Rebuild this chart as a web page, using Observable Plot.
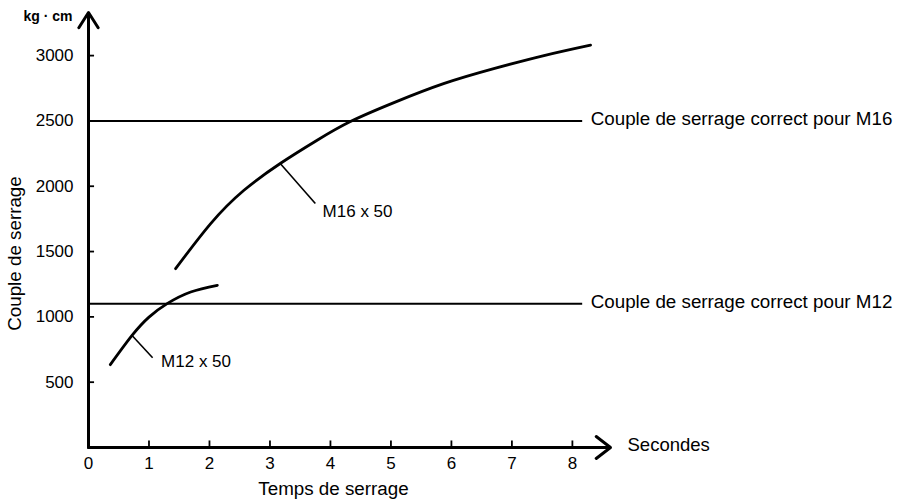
<!DOCTYPE html>
<html><head><meta charset="utf-8">
<script src="https://cdn.jsdelivr.net/npm/d3@7"></script>
<script src="https://cdn.jsdelivr.net/npm/@observablehq/plot@0.6"></script>
<style>body{margin:0;background:#fff;}</style>
</head><body><div id="chart"></div>
<script>
// Data
const xTicks = [0, 1, 2, 3, 4, 5, 6, 7, 8];
const yTicks = [500, 1000, 1500, 2000, 2500, 3000];
const xMax = 8.63;   // end of the time axis arrow
const yMax = 3330;   // end of the torque axis arrow

const m16Time   = [1.44, 2.02, 2.57, 3.17, 3.78, 4.33, 5.05, 5.87, 6.70, 7.53, 8.30];
const m16Torque = [1369, 1714, 1969, 2174, 2352, 2495, 2640, 2785, 2900, 3000, 3080];
const m12Time   = [0.36, 0.72, 1.0, 1.30, 1.69, 2.13];
const m12Torque = [634, 858, 998, 1101, 1190, 1241];

const refNames  = ["Couple de serrage correct pour M16", "Couple de serrage correct pour M12"];
const refValues = [2500, 1100];
const refEnd = 8.17;

const curveNames = ["M16 x 50", "M12 x 50"];
const unitLabel = "kg · cm";
const xTitle = "Temps de serrage";
const yTitle = "Couple de serrage";
const xUnit = "Secondes";

const m16 = m16Time.map((t, i) => ({t, v: m16Torque[i]}));
const m12 = m12Time.map((t, i) => ({t, v: m12Torque[i]}));
const refs = refNames.map((name, i) => ({name, v: refValues[i]}));
// leader lines: from a point on the curve to the label
const leaders = [
  {x1: 3.17, y1: 2174, x2: 3.75, y2: 1868, label: curveNames[0], lx: 3.87, ly: 1803},
  {x1: 0.72, y1: 858, x2: 1.06, y2: 687, label: curveNames[1], lx: 1.2, ly: 660}
];

const font = "'Liberation Sans', Arial, Helvetica, sans-serif";

const chart = Plot.plot({
  width: 900, height: 503,
  marginLeft: 88, marginRight: 290, marginTop: 12, marginBottom: 56,
  style: {fontFamily: font, fontSize: "17px", background: "white", color: "black", overflow: "visible"},
  x: {domain: [0, xMax]},
  y: {domain: [0, yMax]},
  marks: [
    // inward tick marks
    Plot.ruleX(xTicks.slice(1), {x: d => d, y1: 0, y2: 50, strokeWidth: 1.8}),
    Plot.ruleY(yTicks, {y: d => d, x1: 0, x2: 0.1, strokeWidth: 1.8}),
    // tick labels
    Plot.axisX(xTicks, {tickSize: 0, tickPadding: 9, label: null, fontSize: 17}),
    Plot.axisY(yTicks, {tickSize: 0, tickPadding: 15, label: null, fontSize: 17, tickFormat: d => String(d), letterSpacing: 1}),
    // reference lines
    Plot.ruleY(refs, {y: "v", x1: 0, x2: refEnd, strokeWidth: 2}),
    Plot.text(refs, {y: "v", x: refEnd, text: "name", textAnchor: "start", dx: 8, dy: -2, fontSize: 18.8}),
    // curves
    Plot.line(m16, {x: "t", y: "v", curve: "natural", strokeWidth: 2.8}),
    Plot.line(m12, {x: "t", y: "v", curve: "natural", strokeWidth: 2.8}),
    // leaders + labels
    Plot.link(leaders, {x1: "x1", y1: "y1", x2: "x2", y2: "y2", strokeWidth: 1.6}),
    Plot.text(leaders, {x: "lx", y: "ly", text: "label", textAnchor: "start", fontSize: 17}),
    // axes with arrow heads
    Plot.arrow([{x1: 0, y1: 0, x2: xMax, y2: 0}], {x1: "x1", y1: "y1", x2: "x2", y2: "y2", strokeWidth: 3, headLength: 9, headAngle: 75}),
    Plot.arrow([{x1: 0, y1: 0, x2: 0, y2: yMax}], {x1: "x1", y1: "y1", x2: "x2", y2: "y2", strokeWidth: 3, headLength: 9, headAngle: 65}),
    // axis texts
    Plot.text([xUnit], {x: xMax, y: 0, text: d => d, textAnchor: "start", dx: 17, dy: -2, fontSize: 18.5}),
    Plot.text([unitLabel], {x: 0, y: yMax, text: d => d, textAnchor: "end", dx: -16, dy: 4, fontSize: 14, fontWeight: "bold"}),
    Plot.text([xTitle], {x: 4.05, frameAnchor: "bottom", text: d => d, textAnchor: "middle", dy: 47, fontSize: 18.8}),
    Plot.text([yTitle], {y: 1485, frameAnchor: "left", text: d => d, textAnchor: "middle", dx: -74, rotate: -90, fontSize: 18.8})
  ]
});
document.getElementById("chart").appendChild(chart);
</script>
</body></html>
